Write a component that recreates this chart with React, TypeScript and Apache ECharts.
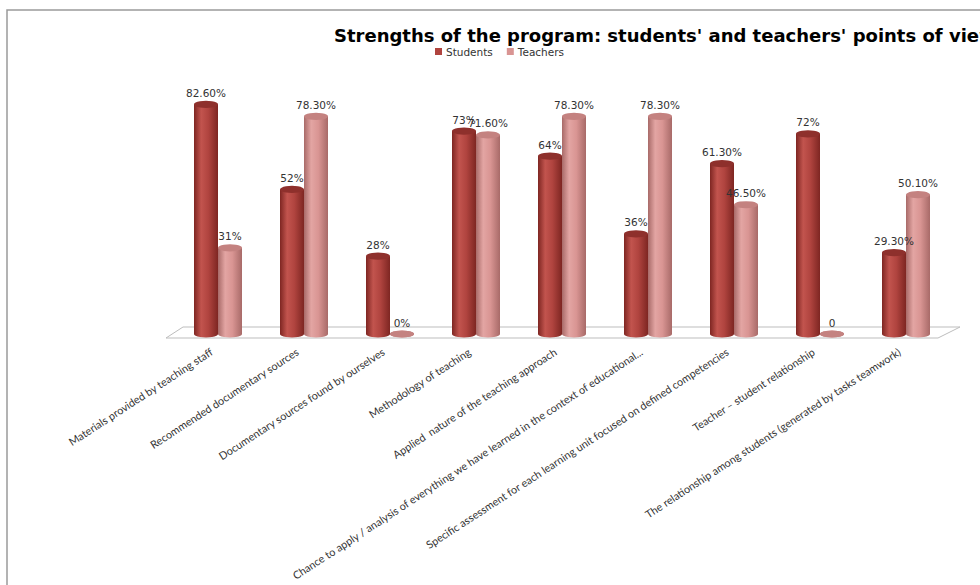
import React, { useEffect, useRef } from "react";
import * as echarts from "echarts";

const categories = [
  "Materials provided by teaching staff",
  "Recommended documentary sources",
  "Documentary sources found by ourselves",
  "Methodology of teaching",
  "Applied  nature of the teaching approach",
  "Chance to apply / analysis of everything we have learned in the context of educational...",
  "Specific assessment for each learning unit focused on defined competencies",
  "Teacher \u2013 student relationship",
  "The relationship among students (generated by tasks teamwork)",
];
const students = [82.6, 52, 28, 73, 64, 36, 61.3, 72, 29.3];
const teachers = [31, 78.3, 0, 71.6, 78.3, 78.3, 46.5, 0, 50.1];
const studentLabels = ["82.60%", "52%", "28%", "73%", "64%", "36%", "61.30%", "72%", "29.30%"];
const teacherLabels = ["31%", "78.30%", "0%", "71.60%", "78.30%", "78.30%", "46.50%", "0", "50.10%"];

const BW = 24;

function cyl(dark: string, mid: string, light: string) {
  return new echarts.graphic.LinearGradient(0, 0, 1, 0, [
    { offset: 0, color: dark },
    { offset: 0.3, color: light },
    { offset: 0.6, color: mid },
    { offset: 1, color: dark },
  ]);
}

export default function App() {
  const ref = useRef<HTMLDivElement>(null);
  useEffect(() => {
    if (!ref.current) return;
    const chart = echarts.init(ref.current, null, { renderer: "svg" });
    const sCol = cyl("#7e2622", "#b0443f", "#c2544e");
    const tCol = cyl("#a86a68", "#d99593", "#e3a5a3");
    const labelStyle = {
      show: true,
      position: "top" as const,
      distance: 6,
      fontFamily: "DejaVu Sans",
      fontSize: 10.5,
      color: "#333",
    };
    chart.setOption({
      animation: false,
      backgroundColor: "#fff",
      title: {
        text: "Strengths of the program: students' and teachers' points of view",
        left: 329,
        top: 21,
        textStyle: { fontFamily: "DejaVu Sans", fontWeight: "bold", fontSize: 18, color: "#000" },
      },
      legend: {
        left: 430,
        top: 41,
        itemWidth: 7,
        itemHeight: 7,
        itemGap: 14,
        icon: "rect",
        textStyle: { fontFamily: "DejaVu Sans", fontSize: 10.5, color: "#333", padding: [0, 0, 0, -1] },
        data: [
          { name: "Students", itemStyle: { color: "#b0443f" } },
          { name: "Teachers", itemStyle: { color: "#d99593" } },
        ],
      },
      graphic: [
        {
          type: "rect",
          shape: { x: 7, y: 10, width: 1000, height: 600 },
          style: { fill: "none", stroke: "#9a9a9a", lineWidth: 1.5 },
        },
        {
          type: "polygon",
          shape: { points: [[166, 338], [938, 338], [960, 327], [183, 327]] },
          style: { fill: "#fff", stroke: "#bdbdbd", lineWidth: 1 },
        },
      ],
      grid: { left: 175, right: 31, top: 56, bottom: 251, containLabel: false },
      xAxis: {
        type: "category",
        data: categories,
        axisLine: { show: false },
        axisTick: { show: false },
        axisLabel: {
          interval: 0,
          rotate: 33,
          margin: 12,
          fontFamily: "Lato",
          fontSize: 10.8,
          color: "#333",
          padding: [0, 8, 0, 0],
        },
      },
      yAxis: { type: "value", min: 0, max: 100, show: false, splitLine: { show: false } },
      series: [
        {
          name: "Students",
          type: "bar",
          data: students,
          barWidth: BW,
          barGap: "0%",
          itemStyle: { color: sCol },
          label: { ...labelStyle, formatter: (p: any) => studentLabels[p.dataIndex] },
          z: 3,
        },
        {
          name: "Teachers",
          type: "bar",
          data: teachers,
          barWidth: BW,
          barGap: "0%",
          itemStyle: { color: tCol },
          label: { ...labelStyle, formatter: (p: any) => teacherLabels[p.dataIndex] },
          z: 3,
        },
        {
          name: "sBottom",
          type: "pictorialBar",
          data: students,
          barWidth: BW,
          barGap: "-100%",
          symbol: "circle",
          symbolSize: [BW, 7],
          symbolPosition: "start",
          symbolOffset: [-BW / 2, "50%"],
          itemStyle: { color: sCol },
          z: 2,
        },
        {
          name: "tBottom",
          type: "pictorialBar",
          data: teachers,
          barWidth: BW,
          barGap: "-100%",
          symbol: "circle",
          symbolSize: [BW, 7],
          symbolPosition: "start",
          symbolOffset: [BW / 2, "50%"],
          itemStyle: { color: tCol },
          z: 2,
        },
        {
          name: "sTop",
          type: "pictorialBar",
          data: students,
          barWidth: BW,
          barGap: "-100%",
          symbol: "circle",
          symbolSize: [BW, 7],
          symbolPosition: "end",
          symbolOffset: [-BW / 2, "-50%"],
          itemStyle: { color: "#8e302c" },
          z: 4,
        },
        {
          name: "tTop",
          type: "pictorialBar",
          data: teachers,
          barWidth: BW,
          barGap: "-100%",
          symbol: "circle",
          symbolSize: [BW, 7],
          symbolPosition: "end",
          symbolOffset: [BW / 2, "-50%"],
          itemStyle: { color: "#c48280" },
          z: 4,
        },
      ],
    });
    return () => chart.dispose();
  }, []);
  return (
    <div
      ref={ref}
      style={{ position: "absolute", left: 0, top: 0, width: 980, height: 585 }}
    />
  );
}
